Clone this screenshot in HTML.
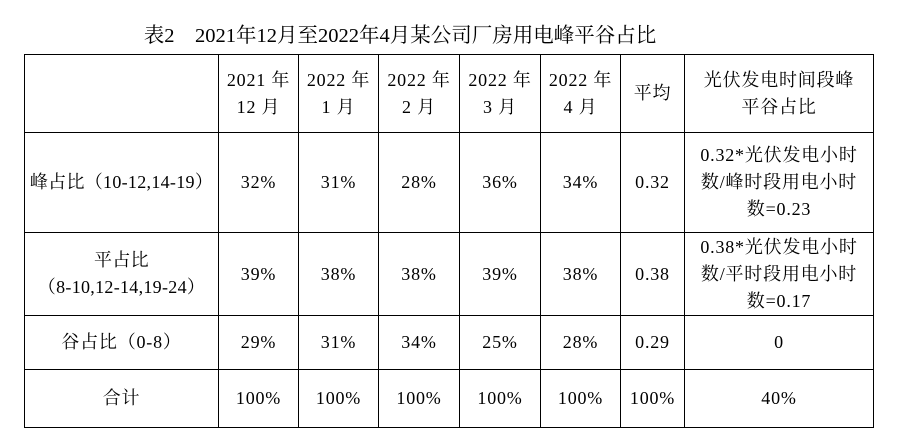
<!DOCTYPE html>
<html><head><meta charset="utf-8"><style>
html,body{margin:0;padding:0;background:#fff;width:899px;height:444px;overflow:hidden}
body{position:relative;font-family:"Liberation Serif","Noto Serif CJK SC",serif;color:#000}
#title{position:absolute;left:0;top:18px;width:800px;text-align:center;font-size:20.5px;white-space:pre}
table{position:absolute;left:24px;top:54px;border-collapse:collapse;table-layout:fixed}
td{border:1.3px solid #000;text-align:center;vertical-align:middle;font-size:18px;letter-spacing:0.8px;line-height:27px;padding:0;white-space:nowrap}
</style></head><body>
<div id="title">表2    2021年12月至2022年4月某公司厂房用电峰平谷占比</div>
<table>
<colgroup><col style="width:194px"><col style="width:80px"><col style="width:80px"><col style="width:81px"><col style="width:81px"><col style="width:80px"><col style="width:64px"><col style="width:189px"></colgroup>
<tr style="height:78px">
<td></td>
<td>2021 年<br>12 月</td>
<td>2022 年<br>1 月</td>
<td>2022 年<br>2 月</td>
<td>2022 年<br>3 月</td>
<td>2022 年<br>4 月</td>
<td>平均</td>
<td>光伏发电时间段峰<br>平谷占比</td>
</tr>
<tr style="height:100px">
<td style="letter-spacing:0.3px">峰占比（10-12,14-19）</td>
<td>32%</td>
<td>31%</td>
<td>28%</td>
<td>36%</td>
<td>34%</td>
<td>0.32</td>
<td>0.32*光伏发电小时<br>数/峰时段用电小时<br>数=0.23</td>
</tr>
<tr style="height:83px">
<td style="letter-spacing:0.3px">平占比<br>（8-10,12-14,19-24）</td>
<td>39%</td>
<td>38%</td>
<td>38%</td>
<td>39%</td>
<td>38%</td>
<td>0.38</td>
<td>0.38*光伏发电小时<br>数/平时段用电小时<br>数=0.17</td>
</tr>
<tr style="height:54px">
<td>谷占比（0-8）</td>
<td>29%</td>
<td>31%</td>
<td>34%</td>
<td>25%</td>
<td>28%</td>
<td>0.29</td>
<td>0</td>
</tr>
<tr style="height:58px">
<td>合计</td>
<td>100%</td>
<td>100%</td>
<td>100%</td>
<td>100%</td>
<td>100%</td>
<td>100%</td>
<td>40%</td>
</tr>
</table>
</body></html>
